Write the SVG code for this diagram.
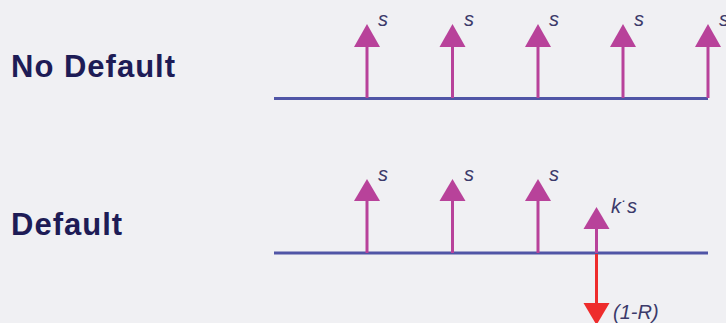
<svg xmlns="http://www.w3.org/2000/svg" width="726" height="323" viewBox="0 0 726 323">
<style>
.title{font-family:"Liberation Sans",Arial,sans-serif;font-weight:bold;font-size:31px;letter-spacing:1px;fill:#1e1c56}
.lbl{font-family:"Liberation Sans",Arial,sans-serif;font-style:italic;font-size:20px;fill:#3b3a6a}
.axis{stroke:#5055a6;stroke-width:3;fill:none}
.up{stroke:#b8429a;stroke-width:3;fill:none}
.uph{fill:#b8429a}
.dn{stroke:#ee2c2c;stroke-width:3;fill:none}
.dnh{fill:#ee2c2c}
</style>
<rect width="726" height="323" fill="#f0f0f3"/>
<g id="label-no-default"><text class="title" x="11" y="77">No Default</text></g>
<g id="label-default"><text class="title" x="11" y="235">Default</text></g>
<g id="connectors">
<line class="axis" x1="274" y1="98.5" x2="708" y2="98.5"/>
<line class="axis" x1="274" y1="253" x2="708" y2="253"/>
</g>
<g id="row1">
<g id="r1a1"><line class="up" x1="367" y1="98" x2="367" y2="45"/><polygon class="uph" points="354,47 380,47 367,24"/><text class="lbl" x="378" y="26">s</text></g>
<g id="r1a2"><line class="up" x1="452.5" y1="98" x2="452.5" y2="45"/><polygon class="uph" points="439.5,47 465.5,47 452.5,24"/><text class="lbl" x="464" y="26">s</text></g>
<g id="r1a3"><line class="up" x1="538" y1="98" x2="538" y2="45"/><polygon class="uph" points="525,47 551,47 538,24"/><text class="lbl" x="549" y="26">s</text></g>
<g id="r1a4"><line class="up" x1="623" y1="98" x2="623" y2="45"/><polygon class="uph" points="610,47 636,47 623,24"/><text class="lbl" x="634" y="26">s</text></g>
<g id="r1a5"><line class="up" x1="708" y1="98" x2="708" y2="45"/><polygon class="uph" points="695,47 721,47 708,24"/><text class="lbl" x="719" y="26">s</text></g>
</g>
<g id="row2">
<g id="r2a1"><line class="up" x1="367" y1="253" x2="367" y2="199"/><polygon class="uph" points="354,201 380,201 367,179"/><text class="lbl" x="378" y="181">s</text></g>
<g id="r2a2"><line class="up" x1="452.5" y1="253" x2="452.5" y2="199"/><polygon class="uph" points="439.5,201 465.5,201 452.5,179"/><text class="lbl" x="464" y="181">s</text></g>
<g id="r2a3"><line class="up" x1="538" y1="253" x2="538" y2="199"/><polygon class="uph" points="525,201 551,201 538,179"/><text class="lbl" x="549" y="181">s</text></g>
<g id="r2a4"><line class="up" x1="596.5" y1="253" x2="596.5" y2="227"/><polygon class="uph" points="583.5,229 609.5,229 596.5,207"/><text class="lbl" x="611" y="213">k<tspan dy="-8" font-size="15">·</tspan><tspan dy="8" dx="1">s</tspan></text></g>
<g id="r2d"><line class="dn" x1="596.5" y1="254" x2="596.5" y2="305"/><polygon class="dnh" points="583.5,303 609.5,303 596.5,325"/><text class="lbl" x="613" y="319">(1-R)</text></g>
</g>
</svg>
